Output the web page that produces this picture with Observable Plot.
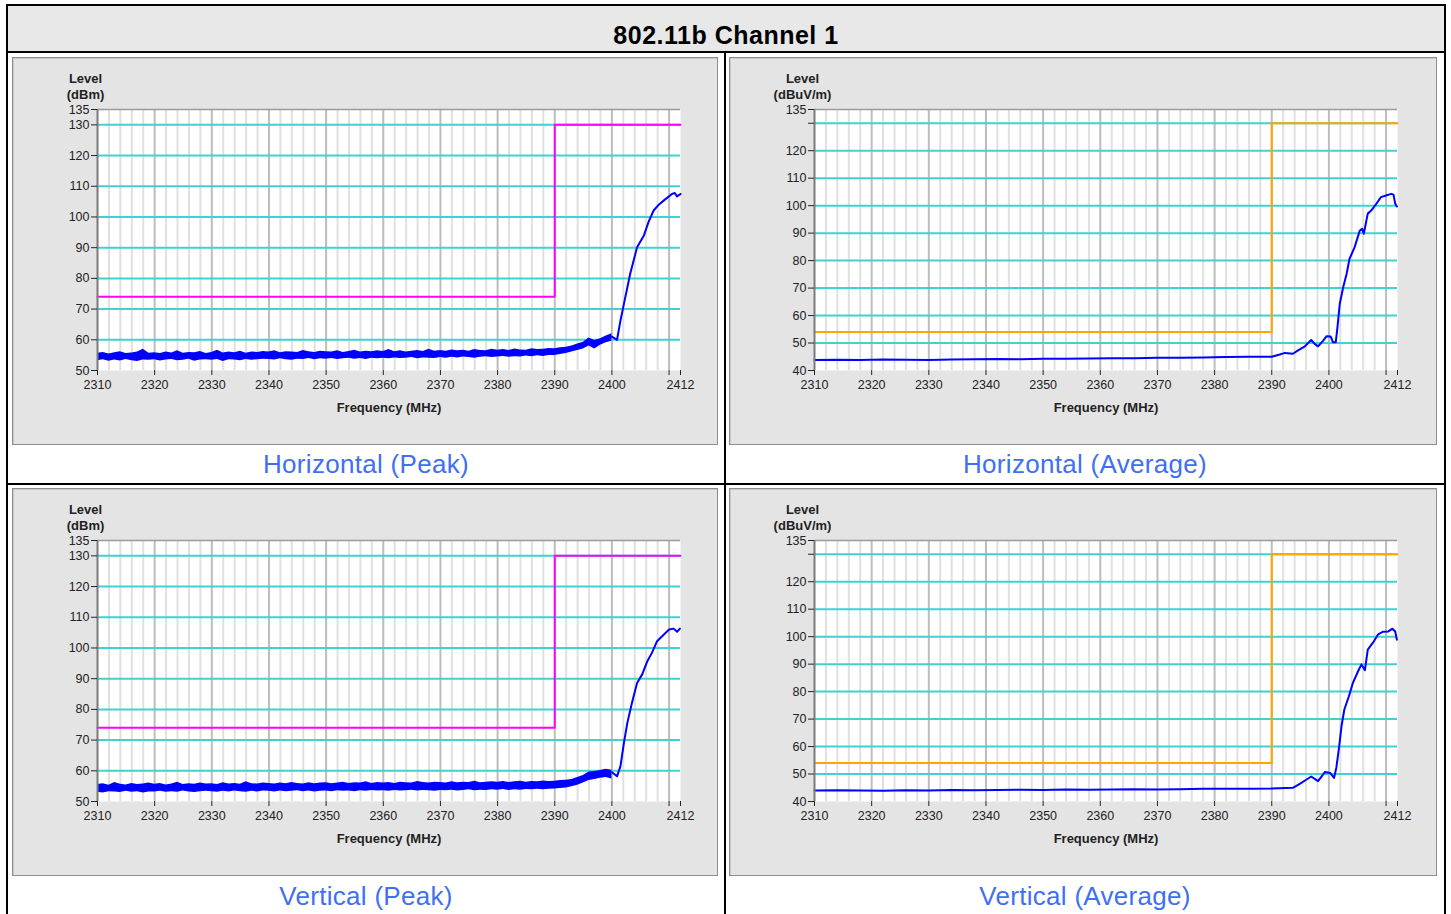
<!DOCTYPE html>
<html><head><meta charset="utf-8">
<script src="https://cdn.jsdelivr.net/npm/d3@7"></script>
<script src="https://cdn.jsdelivr.net/npm/@observablehq/plot@0.6"></script>
<style>
body{margin:0;background:#fff;font-family:"Liberation Sans",Arial,sans-serif;}
#root{position:relative;width:1451px;height:914px;overflow:hidden;}
.abs{position:absolute;}
.panel{position:absolute;background:#e4e4e4;border:1px solid #8e8e8e;box-sizing:border-box;box-shadow:inset 1px 1px 0 #c8c8c8;}
.cap{position:absolute;color:#3f6ff2;font-size:26px;letter-spacing:0.3px;text-align:center;line-height:30px;white-space:nowrap;}
.chart{position:absolute;}
</style></head>
<body><div id="root"></div>
<script>
// ---------- data ----------
const title = "802.11b Channel 1";
const captions = ["Horizontal (Peak)", "Horizontal (Average)", "Vertical (Peak)", "Vertical (Average)"];
const xTicks = [2310, 2320, 2330, 2340, 2350, 2360, 2370, 2380, 2390, 2400, 2410, 2412];
const xMajorGrid = [2320, 2330, 2340, 2350, 2360, 2370, 2380, 2390, 2400, 2410];
const peakYTicks = [50, 60, 70, 80, 90, 100, 110, 120, 130, 135];
const avgYTicks = [40, 50, 60, 70, 80, 90, 100, 110, 120, 130, 135];
const peakGridY = [60, 70, 80, 90, 100, 110, 120, 130];
const avgGridY = [50, 60, 70, 80, 90, 100, 110, 120, 130];

// limit lines
const limitF = [2310, 2390, 2390, 2412];
const peakLimitV = [74, 74, 130, 130];
const avgLimitV = [54, 54, 130, 130];

// noisy peak traces: envelope sampled every 1 MHz from 2310 to 2400
const bandStart = 2310;
const hPeakHi = [55.6,55.9,55.4,55.8,56.1,55.5,55.7,56.0,56.9,55.6,
  55.8,55.5,56.0,55.7,56.4,55.6,55.9,55.8,56.2,55.5,
  55.9,56.6,55.7,56.0,55.8,56.3,55.6,56.0,55.9,56.2,
  56.0,56.4,55.8,56.1,56.0,55.9,56.5,56.1,55.9,56.3,
  56.1,56.0,56.4,55.9,56.2,56.6,56.0,56.3,56.1,56.4,
  56.2,56.8,56.1,56.4,56.0,56.3,56.5,56.2,56.9,56.3,
  56.5,56.3,56.7,56.4,56.6,56.3,56.8,56.5,56.4,56.9,
  56.6,56.8,56.5,57.0,56.7,56.6,57.1,56.8,56.9,57.2,
  57.1,57.4,57.6,58.0,58.6,59.2,60.6,59.8,60.3,61.2,62.0];
const hPeakLo = [53.2,53.5,53.0,53.4,53.1,53.6,53.2,52.9,53.4,53.3,
  53.5,53.1,53.4,53.6,53.2,53.3,53.7,53.0,53.4,53.5,
  53.3,53.6,52.9,53.5,53.4,53.2,53.6,53.3,53.5,53.7,
  53.6,53.4,53.8,53.5,53.3,53.7,53.6,53.9,53.5,53.8,
  53.7,53.9,53.6,53.8,54.0,53.7,53.9,53.6,54.0,53.8,
  54.0,53.8,54.1,53.9,54.0,54.2,53.8,54.1,54.0,53.9,
  54.2,54.0,54.3,54.1,54.4,54.2,54.0,54.3,54.5,54.2,
  54.4,54.6,54.3,54.5,54.4,54.7,54.5,54.8,54.6,54.9,
  54.9,55.2,55.5,56.0,56.5,57.0,58.0,57.0,58.2,59.0,59.5];
const hPeakRiseF = [2400, 2400.9, 2401.5, 2402.1, 2403.2, 2404.4, 2405.6, 2406.4, 2407.3, 2408.2, 2409.1, 2410.5, 2411, 2411.4, 2412];
const hPeakRiseV = [61.0, 60.0, 66.3, 71.7, 81.5, 90.1, 94.0, 98.3, 102.1, 104.0, 105.4, 107.5, 107.8, 106.7, 107.5];

const vPeakHi = [55.5,55.8,55.3,56.2,55.6,55.4,55.9,55.5,55.7,56.0,
  55.6,55.9,55.4,55.7,56.3,55.5,55.8,55.6,56.0,55.7,
  55.8,55.5,56.1,55.7,55.9,55.6,56.4,55.8,55.7,56.0,
  55.9,55.7,56.0,55.8,56.2,55.9,55.7,56.1,55.8,56.0,
  56.1,55.8,56.0,56.3,55.9,56.1,56.0,56.4,55.9,56.2,
  56.0,56.2,55.9,56.3,56.1,56.0,56.5,56.2,56.0,56.3,
  56.2,56.0,56.4,56.1,56.3,56.2,56.6,56.1,56.3,56.4,
  56.3,56.5,56.2,56.4,56.6,56.3,56.5,56.4,56.7,56.5,
  56.6,56.8,56.9,57.2,57.8,58.5,59.6,59.8,60.1,60.5,60.2];
const vPeakLo = [53.0,52.8,53.2,53.1,52.9,53.3,53.0,53.2,52.8,53.1,
  53.1,53.3,53.0,53.2,53.0,53.4,53.1,52.9,53.2,53.3,
  53.2,53.0,53.3,53.1,53.4,53.2,53.0,53.3,53.1,53.4,
  53.3,53.1,53.4,53.2,53.3,53.5,53.2,53.4,53.1,53.3,
  53.4,53.2,53.5,53.3,53.4,53.2,53.5,53.3,53.6,53.4,
  53.5,53.3,53.6,53.4,53.5,53.7,53.4,53.6,53.5,53.3,
  53.6,53.5,53.7,53.4,53.6,53.8,53.5,53.7,53.6,53.8,
  53.7,53.9,53.6,53.8,53.7,53.9,53.8,54.0,53.8,54.0,
  54.1,54.2,54.4,54.8,55.3,56.0,56.8,57.2,57.6,57.8,57.3];
const vPeakRiseF = [2400, 2400.9, 2401.5, 2402.1, 2402.7, 2403.5, 2404.4, 2405.3, 2406.2, 2407.0, 2407.9, 2409.1, 2410, 2410.8, 2411.4, 2411.9];
const vPeakRiseV = [59.5, 58.2, 61.5, 69.1, 75.6, 82.1, 88.6, 91.4, 95.7, 98.4, 102.2, 104.4, 106.0, 106.3, 105.3, 106.3];

// average traces
const hAvgF = [2310,2314,2318,2322,2326,2330,2334,2338,2342,2346,2350,2354,2358,2362,2366,2370,2374,2378,2382,2386,2390,
  2391.4,2392.3,2393.7,2394.6,2395.8,2396.9,2397.5,2398.1,2399,2399.6,2400.3,2400.7,2401.2,2401.5,2401.9,2402.5,2403.1,2403.6,2404.5,2405.4,2405.8,2406.1,2406.8,2407.4,2408.3,2409.1,2410,2410.9,2411.3,2411.6,2411.9];
const hAvgV = [43.8,43.9,43.8,44.0,43.9,43.8,44.0,44.1,44.2,44.1,44.3,44.3,44.4,44.5,44.5,44.6,44.6,44.7,44.9,45.0,45.0,
  45.8,46.4,46.1,47.3,48.8,51.1,49.7,48.8,50.9,52.5,52.4,50.3,50.3,55.8,64.3,70.3,75.2,80.6,84.9,90.9,91.6,89.8,97.1,98.2,100.7,103.1,103.7,104.3,104.0,100.7,99.7];
const vAvgF = [2310,2314,2318,2322,2326,2330,2334,2338,2342,2346,2350,2354,2358,2362,2366,2370,2374,2378,2382,2386,2390,2393.7,
  2394.9,2396.1,2396.9,2398.1,2399.3,2400.2,2400.9,2401.3,2401.8,2402.2,2402.7,2403.5,2404.2,2405.1,2405.7,2406.3,2406.8,2407.7,2408.6,2409.5,2410.4,2411.1,2411.6,2411.9];
const vAvgV = [44.0,44.1,44.0,43.9,44.1,44.0,44.2,44.1,44.2,44.3,44.2,44.4,44.3,44.4,44.5,44.4,44.5,44.6,44.6,44.6,44.7,45.0,
  46.4,48.0,49.1,47.4,50.7,50.4,48.6,52.3,60.1,67.4,73.5,78.3,83.2,87.4,89.9,87.8,95.3,97.8,100.8,101.8,101.9,102.9,101.9,98.9];

// ---------- layout ----------
const root = document.getElementById("root");
function box(style, cls, text) {
  const d = document.createElement("div");
  if (cls) d.className = cls;
  d.style.cssText = style;
  if (text) d.textContent = text;
  root.appendChild(d);
  return d;
}
box("left:6px;top:4px;width:1440px;height:930px;border:2px solid #000;box-sizing:border-box;", "abs");
box("left:8px;top:6px;width:1436px;height:45px;background:#e8e8e8;", "abs");
box("left:8px;top:6px;width:1436px;height:45px;line-height:58px;text-align:center;font-weight:bold;font-size:25px;letter-spacing:0.5px;color:#000;", "abs", title);
box("left:6px;top:51px;width:1440px;height:2px;background:#000;", "abs");
box("left:724px;top:51px;width:2px;height:880px;background:#000;", "abs");
box("left:6px;top:483px;width:1440px;height:2px;background:#000;", "abs");

const minorGrid = d3.range(2312, 2412, 2).filter(d => d % 10 !== 0);

function chart(cfg) {
  const band = cfg.lo ? cfg.lo.map((lo, i) => ({f: bandStart + i, lo, hi: cfg.hi[i]})) : [];
  const trace = cfg.traceF.map((f, i) => ({f, v: cfg.traceV[i]}));
  const limit = limitF.map((f, i) => ({f, v: cfg.limitV[i]}));
  const lbl = {fontWeight: "bold", fontSize: 13, fill: "#222", textAnchor: "middle", lineAnchor: "middle"};
  return Plot.plot({
    width: cfg.width, height: 388,
    marginLeft: 85, marginRight: cfg.width - 85 - 583, marginTop: 52, marginBottom: 75,
    x: {domain: [2310, 2412]},
    y: {domain: cfg.yDomain},
    style: {background: "transparent", overflow: "visible", fontFamily: "Liberation Sans, Arial, sans-serif", fontSize: "12.5px", color: "#222"},
    marks: [
      Plot.frame({fill: "white", stroke: null}),
      Plot.ruleX(minorGrid, {stroke: "#e0e0e0", strokeWidth: 2}),
      Plot.ruleX(xMajorGrid, {stroke: "#bdbdbd", strokeWidth: 2}),
      Plot.ruleY(cfg.gridY, {stroke: "#40d2d2", strokeWidth: 2}),
      Plot.line(limit, {x: "f", y: "v", stroke: cfg.limitColor, strokeWidth: 2}),
      band.length ? Plot.areaY(band, {x: "f", y1: "lo", y2: "hi", fill: "#0000ff", curve: "linear"}) : null,
      Plot.line(trace, {x: "f", y: "v", stroke: "#0000ff", strokeWidth: 2}),
      Plot.ruleY([135], {stroke: "#9a9a9a", strokeWidth: 1.5}),
      Plot.ruleX([2310], {stroke: "#7a7a7a", strokeWidth: 2}),
      Plot.axisY({ticks: cfg.yTicks, tickSize: 6, tickPadding: 2, label: null, anchor: "left",
        tickFormat: d => (d === 130 && cfg.hide130) ? "" : String(d)}),
      Plot.axisX({ticks: xTicks, tickSize: 5, tickPadding: 5, label: null, anchor: "bottom",
        tickFormat: d => d === 2410 ? "" : String(d)}),
      Plot.text(["Frequency (MHz)"], {...lbl, frameAnchor: "bottom", dy: 37}),
      Plot.text(["Level"], {...lbl, frameAnchor: "top-left", dx: -12, dy: -31}),
      Plot.text([cfg.unit], {...lbl, frameAnchor: "top-left", dx: -12, dy: -15})
    ].filter(Boolean)
  });
}

const panels = [
  {left: 12, top: 57, width: 706, cap: captions[0], capX: 7, capW: 718, capY: 449,
   yDomain: [50, 135], yTicks: peakYTicks, gridY: peakGridY, unit: "(dBm)", limitV: peakLimitV, limitColor: "#ff00ff",
   lo: hPeakLo, hi: hPeakHi, traceF: hPeakRiseF, traceV: hPeakRiseV},
  {left: 729, top: 57, width: 708, cap: captions[1], capX: 726, capW: 718, capY: 449,
   yDomain: [40, 135], yTicks: avgYTicks, gridY: avgGridY, unit: "(dBuV/m)", limitV: avgLimitV, limitColor: "#ffa500", hide130: true,
   traceF: hAvgF, traceV: hAvgV},
  {left: 12, top: 488, width: 706, cap: captions[2], capX: 7, capW: 718, capY: 881,
   yDomain: [50, 135], yTicks: peakYTicks, gridY: peakGridY, unit: "(dBm)", limitV: peakLimitV, limitColor: "#ff00ff",
   lo: vPeakLo, hi: vPeakHi, traceF: vPeakRiseF, traceV: vPeakRiseV},
  {left: 729, top: 488, width: 708, cap: captions[3], capX: 726, capW: 718, capY: 881,
   yDomain: [40, 135], yTicks: avgYTicks, gridY: avgGridY, unit: "(dBuV/m)", limitV: avgLimitV, limitColor: "#ffa500", hide130: true,
   traceF: vAvgF, traceV: vAvgV}
];

for (const p of panels) {
  box(`left:${p.left}px;top:${p.top}px;width:${p.width}px;height:388px;`, "panel");
  const wrap = box(`left:${p.left}px;top:${p.top}px;width:${p.width}px;height:388px;`, "chart");
  wrap.appendChild(chart(p));
  box(`left:${p.capX}px;top:${p.capY}px;width:${p.capW}px;`, "cap", p.cap);
}
</script>
</body></html>
